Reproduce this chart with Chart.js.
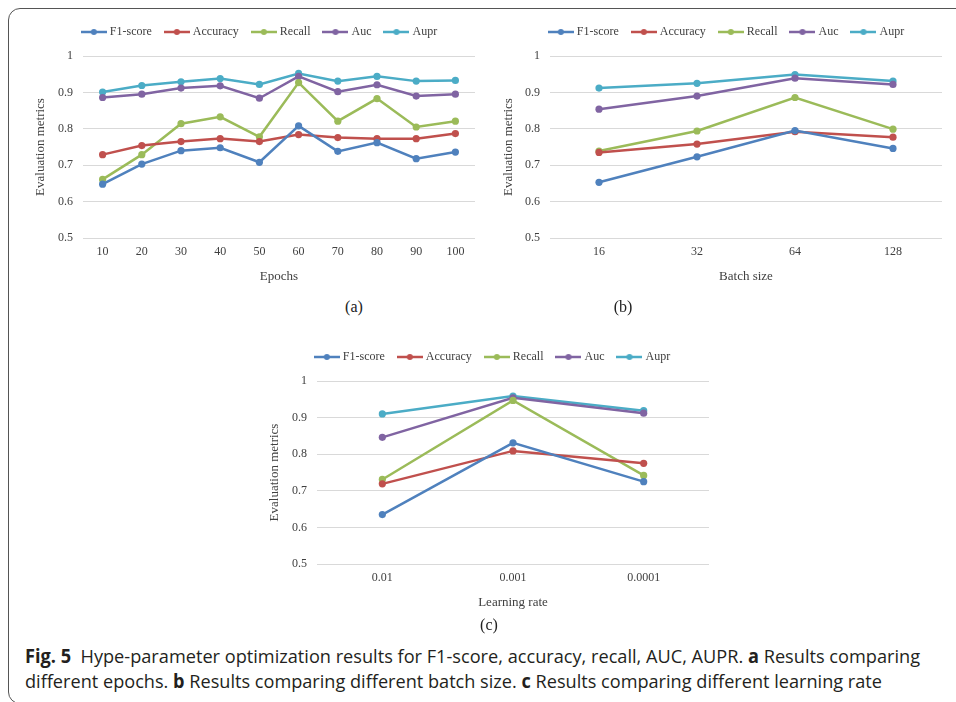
<!DOCTYPE html>
<html>
<head>
<meta charset="utf-8">
<script src="https://cdn.jsdelivr.net/npm/chart.js@4"></script>
<style>
  html, body { margin: 0; padding: 0; background: #fff; width: 956px; height: 702px; overflow: hidden; }
  .frame { position: absolute; left: 8px; top: 8px; width: 1000px; height: 694px; border: 1.2px solid #555; border-radius: 12px; }
  canvas { position: absolute; }
  .sub { position: absolute; font-family: "Liberation Serif", serif; font-size: 16px; color: #222; transform: translate(-50%, -50%); }
  .cap { position: absolute; left: 25px; font-family: "Open Sans", "Noto Sans", sans-serif; font-size: 19px; line-height: 24px; color: #231f20; white-space: nowrap; transform-origin: 0 50%; }
  .cap b { font-weight: 700; }
</style>
</head>
<body>
<div class="frame"></div>
<canvas id="ca" width="481" height="297" style="left:20px;top:1px"></canvas>
<canvas id="cb" width="457" height="297" style="left:499px;top:1px"></canvas>
<canvas id="cc" width="461" height="298" style="left:263px;top:326px"></canvas>
<div class="sub" style="left:354px;top:307px">(a)</div>
<div class="sub" style="left:623px;top:307px">(b)</div>
<div class="sub" style="left:489px;top:625px">(c)</div>
<div class="cap" id="cap1" style="top:644px"><b>Fig. 5</b>&nbsp; Hype-parameter optimization results for F1-score, accuracy, recall, AUC, AUPR. <b>a</b> Results comparing</div>
<div class="cap" id="cap2" style="top:669px">different epochs. <b>b</b> Results comparing different batch size. <b>c</b> Results comparing different learning rate</div>
<script>
// ---------- data ----------
const seriesNames = ['F1-score', 'Accuracy', 'Recall', 'Auc', 'Aupr'];
const seriesColors = ['#4F81BD', '#C0504D', '#9BBB59', '#8064A2', '#4BACC6'];
const yTickLabels = ['0.5', '0.6', '0.7', '0.8', '0.9', '1'];

const epochs = ['10', '20', '30', '40', '50', '60', '70', '80', '90', '100'];
const epochF1   = [0.648, 0.703, 0.740, 0.748, 0.708, 0.808, 0.738, 0.762, 0.718, 0.736];
const epochAcc  = [0.729, 0.754, 0.765, 0.773, 0.765, 0.784, 0.776, 0.773, 0.773, 0.787];
const epochRec  = [0.661, 0.729, 0.814, 0.833, 0.778, 0.927, 0.821, 0.883, 0.805, 0.821];
const epochAuc  = [0.886, 0.895, 0.912, 0.918, 0.884, 0.944, 0.902, 0.921, 0.890, 0.895];
const epochAupr = [0.901, 0.919, 0.929, 0.938, 0.922, 0.952, 0.931, 0.944, 0.931, 0.933];

const batchSizes = ['16', '32', '64', '128'];
const batchF1   = [0.653, 0.723, 0.795, 0.746];
const batchAcc  = [0.735, 0.758, 0.792, 0.777];
const batchRec  = [0.739, 0.794, 0.886, 0.799];
const batchAuc  = [0.854, 0.890, 0.939, 0.922];
const batchAupr = [0.912, 0.925, 0.949, 0.931];

const learningRates = ['0.01', '0.001', '0.0001'];
const lrF1   = [0.635, 0.831, 0.725];
const lrAcc  = [0.719, 0.809, 0.775];
const lrRec  = [0.731, 0.947, 0.742];
const lrAuc  = [0.846, 0.954, 0.912];
const lrAupr = [0.910, 0.959, 0.919];

// ---------- helpers ----------
const FONT = '"Liberation Serif", "Times New Roman", serif';
const TEXT = '#404040';

function legendImage(color) {
  const c = document.createElement('canvas');
  c.width = 26; c.height = 8;
  const g = c.getContext('2d');
  g.strokeStyle = color; g.lineWidth = 2.5;
  g.beginPath(); g.moveTo(0, 4); g.lineTo(26, 4); g.stroke();
  g.fillStyle = color;
  g.beginPath(); g.arc(13, 4, 3, 0, Math.PI * 2); g.fill();
  return c;
}
const legendImgs = seriesColors.map(legendImage);

const legendGap = {
  id: 'legendGap',
  beforeUpdate(chart) {
    const lg = chart.legend;
    if (lg && !lg._gapPatched) {
      const orig = lg.fit;
      lg.fit = function () { orig.call(this); this.height += 8; };
      lg._gapPatched = true;
    }
  }
};

function makeChart(id, labels, values, xTitle, geo) {
  const datasets = values.map((v, i) => ({
    label: seriesNames[i],
    data: v,
    borderColor: seriesColors[i],
    backgroundColor: seriesColors[i],
    borderWidth: 2.5,
    pointRadius: 3.6,
    pointBorderWidth: 0,
    pointBackgroundColor: seriesColors[i],
    tension: 0
  }));
  return new Chart(document.getElementById(id), {
    type: 'line',
    data: { labels, datasets },
    plugins: [legendGap],
    options: {
      responsive: false,
      animation: false,
      devicePixelRatio: 1,
      layout: { padding: { top: 10, left: 0, right: 0, bottom: 0 } },
      plugins: {
        tooltip: { enabled: false },
        legend: {
          position: 'top',
          labels: {
            usePointStyle: true,
            pointStyleWidth: 20,
            padding: 15,
            color: TEXT,
            font: { family: FONT, size: 12 },
            generateLabels(chart) {
              const items = Chart.defaults.plugins.legend.labels.generateLabels(chart);
              items.forEach((it, i) => { it.pointStyle = legendImgs[i]; it.lineWidth = 0; });
              return items;
            }
          }
        }
      },
      scales: {
        x: {
          type: 'category',
          offset: true,
          grid: { display: false, drawTicks: false },
          border: { display: false },
          ticks: { color: TEXT, font: { family: FONT, size: 12 }, padding: 7, maxRotation: 0 },
          title: { display: true, text: xTitle, color: TEXT, font: { family: FONT, size: 13 }, padding: { top: 0, bottom: 13.5 } },
          afterFit(s) { s.height = 60; }
        },
        y: {
          min: 0.5, max: 1,
          grid: { color: '#D9D9D9', lineWidth: 1, drawTicks: false },
          border: { display: false },
          ticks: {
            stepSize: 0.1, padding: 10, color: TEXT, font: { family: FONT, size: 12 },
            callback(v, idx) { return yTickLabels[idx]; }
          },
          title: { display: true, text: 'Evaluation metrics', color: TEXT, font: { family: FONT, size: 13 }, padding: { top: geo.titlePad, bottom: 0 } },
          afterFit(s) { s.width = geo.yWidth; }
        },
        yR: {
          position: 'right',
          type: 'linear',
          display: true,
          grid: { display: false, drawTicks: false },
          border: { display: false },
          ticks: { display: false },
          afterFit(s) { s.width = geo.rightWidth; }
        }
      }
    }
  });
}

makeChart('ca', epochs, [epochF1, epochAcc, epochRec, epochAuc, epochAupr], 'Epochs',
  { titlePad: 13.2, yWidth: 63, rightWidth: 26 });
makeChart('cb', batchSizes, [batchF1, batchAcc, batchRec, batchAuc, batchAupr], 'Batch size',
  { titlePad: 2.2, yWidth: 51, rightWidth: 14 });
makeChart('cc', learningRates, [lrF1, lrAcc, lrRec, lrAuc, lrAupr], 'Learning rate',
  { titlePad: 4, yWidth: 54, rightWidth: 15 });

// fit caption lines to the reference widths
function fitLine(id, target) {
  const el = document.getElementById(id);
  const w = el.getBoundingClientRect().width;
  el.style.transform = 'scaleX(' + (target / w) + ')';
}
fitLine('cap1', 895);
fitLine('cap2', 857);
</script>
</body>
</html>
